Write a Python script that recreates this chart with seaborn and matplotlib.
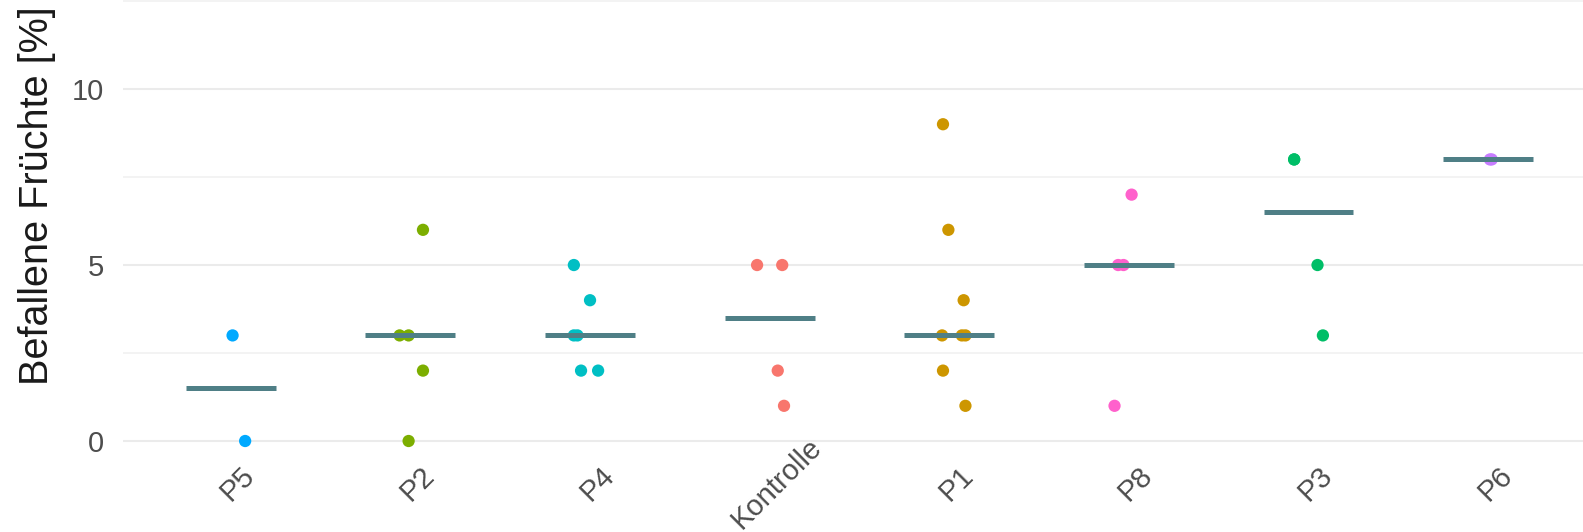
import numpy as np
import pandas as pd
import seaborn as sns
import matplotlib.pyplot as plt
from matplotlib import transforms

# Befallene Früchte je Variante, Reihenfolge nach Median
reihenfolge = ["P5", "P2", "P4", "Kontrolle", "P1", "P8", "P3", "P6"]

p5 = [3, 0]
p2 = [6, 3, 3, 2, 0]
p4 = [5, 4, 3, 3, 2, 2]
kontrolle = [5, 5, 2, 1]
p1 = [9, 6, 4, 3, 3, 3, 2, 1]
p8 = [7, 5, 5, 1]
p3 = [8, 8, 5, 3]
p6 = [8, 8]

# horizontale Streuung (jitter)
p5_jit = [0.01, 0.08]
p2_jit = [0.07, -0.06, -0.01, 0.07, -0.01]
p4_jit = [-0.09, 0.0, -0.09, -0.07, -0.05, 0.045]
kontrolle_jit = [-0.07, 0.07, 0.045, 0.08]
p1_jit = [-0.035, -0.005, 0.08, -0.04, 0.07, 0.09, -0.035, 0.09]
p8_jit = [0.015, -0.06, -0.03, -0.08]
p3_jit = [-0.08, -0.08, 0.05, 0.08]
p6_jit = [0.01, 0.02]

werte = [p5, p2, p4, kontrolle, p1, p8, p3, p6]
jitter = [p5_jit, p2_jit, p4_jit, kontrolle_jit, p1_jit, p8_jit, p3_jit, p6_jit]

# ggplot Standardfarben (alphabetisch)
farben = {"Kontrolle": "#F8766D", "P1": "#CD9600", "P2": "#7CAE00", "P3": "#00BE67",
          "P4": "#00BFC4", "P5": "#00A9FF", "P6": "#C77CFF", "P8": "#FF61CC"}

rows = []
for i, (name, vals, jit) in enumerate(zip(reihenfolge, werte, jitter)):
    for v, j in zip(vals, jit):
        rows.append({"gruppe": name, "wert": v, "pos": i + j})
df = pd.DataFrame(rows)

sns.set_theme(style="white")
plt.rcParams["font.family"] = ["Liberation Sans", "DejaVu Sans"]

W, H = 1583, 532
fig = plt.figure(figsize=(W / 100, H / 100), dpi=100)
ax = fig.add_axes([123 / W, 1 - 458.6 / H, 1 - 123 / W, 458.6 / H])

sns.scatterplot(data=df, x="pos", y="wert", hue="gruppe", palette=farben,
                s=78, linewidth=0, legend=False, ax=ax, zorder=3)

median = df.groupby("gruppe", sort=False)["wert"].median().reindex(reihenfolge)
pos = np.arange(len(reihenfolge))
ax.hlines(median.values, pos - 0.25, pos + 0.25, color="#4f7f86", lw=3.6, zorder=4)

ax.set_xlim(-0.6, 7.528)
ax.set_ylim(-0.5, 12.53)
ax.set_yticks([0, 5, 10])
ax.set_yticks([2.5, 7.5, 12.5], minor=True)
ax.yaxis.grid(True, which="major", color="#ebebeb", lw=1.5)
ax.yaxis.grid(True, which="minor", color="#f0f0f0", lw=1.1)
ax.xaxis.grid(False)
ax.set_axisbelow(True)
for s in ax.spines.values():
    s.set_visible(False)

ax.set_xticks(pos)
ax.set_xticklabels(reihenfolge, rotation=45, ha="center", va="center", rotation_mode="anchor")
ax.tick_params(axis="x", length=0, pad=18, labelsize=21, labelcolor="#4d4d4d")
ax.tick_params(axis="y", which="both", length=0, pad=14, labelsize=21, labelcolor="#4d4d4d")
verschieb = transforms.ScaledTranslation(7 / 100, 0, fig.dpi_scale_trans)
for lbl in ax.get_xticklabels():
    lbl.set_transform(lbl.get_transform() + verschieb)

ax.set_xlabel("")
ax.set_ylabel("Befallene Früchte [%]", fontsize=28.5, color="#1a1a1a")
ax.yaxis.set_label_coords(-0.046, 0.573)

fig.savefig("out.png", dpi=100)
